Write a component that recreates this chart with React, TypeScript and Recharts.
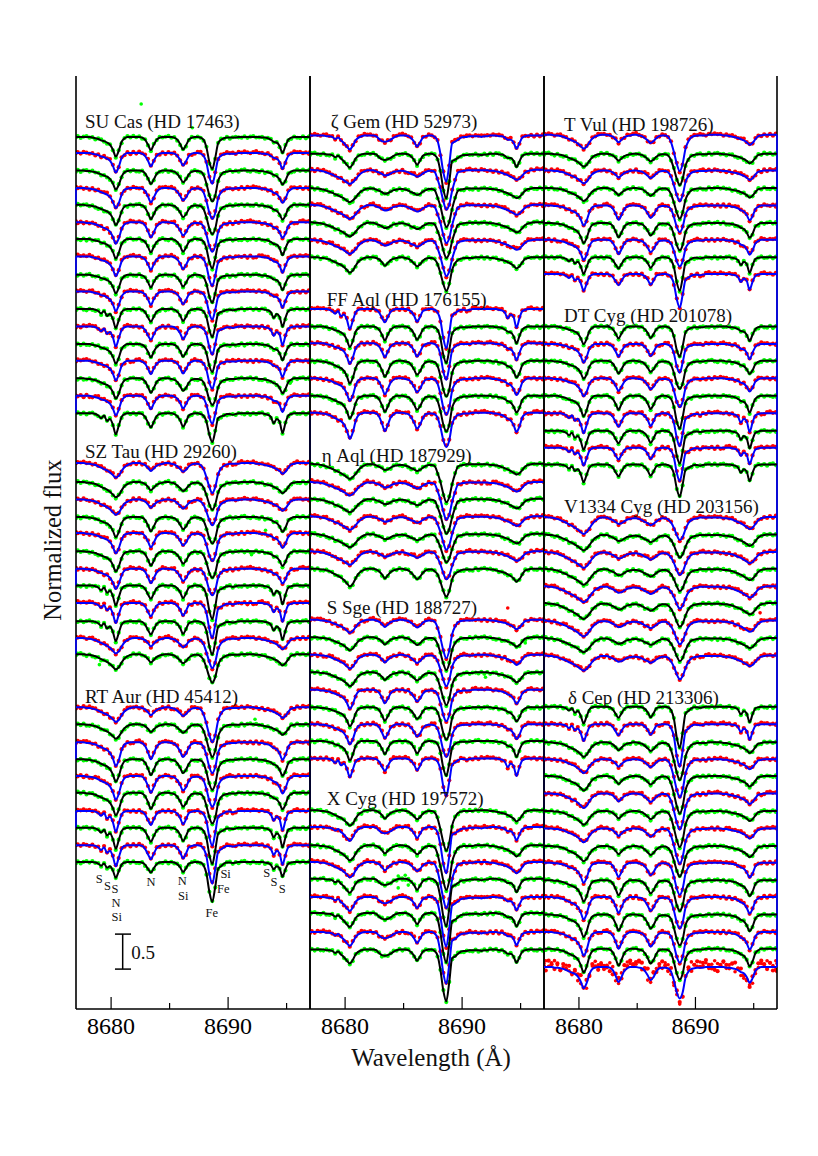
import React from 'react';
import { LineChart, Line, XAxis, YAxis, ReferenceLine, ReferenceDot } from 'recharts';

// wavelength grid (Angstrom)
const wavelengths = [
  8677.0, 8677.15, 8677.4, 8677.65, 8677.9, 8678.15, 8678.4, 8678.65, 8678.9, 8679.15,
  8679.4, 8679.65, 8679.9, 8680.15, 8680.4, 8680.65, 8680.9, 8681.15, 8681.4, 8681.65,
  8681.9, 8682.15, 8682.4, 8682.65, 8682.9, 8683.15, 8683.4, 8683.65, 8683.9, 8684.15,
  8684.4, 8684.65, 8684.9, 8685.15, 8685.4, 8685.65, 8685.9, 8686.15, 8686.4, 8686.65,
  8686.9, 8687.15, 8687.4, 8687.65, 8687.9, 8688.15, 8688.4, 8688.65, 8688.9, 8689.15,
  8689.4, 8689.65, 8689.9, 8690.15, 8690.4, 8690.65, 8690.9, 8691.15, 8691.4, 8691.65,
  8691.9, 8692.15, 8692.4, 8692.65, 8692.9, 8693.15, 8693.4, 8693.65, 8693.9, 8694.15,
  8694.4, 8694.65, 8694.9, 8695.15, 8695.4, 8695.65, 8695.9, 8696.15, 8696.4, 8696.65, 8696.9, 8697.0,
];

// line depth templates, in 0.01 flux
const shapeA = [
  0,0,0,0,0,0,0,1,3,7, 3,11,8,16,30,18,5,1,0,0, 0,0,0,1,5,13,20,12,4,1, 0,0,0,0,1,4,10,19,12,3,
  1,0,0,1,4,14,36,48,30,8, 5,3,1,1,2,1,0,0,0,0, 0,0,0,0,0,1,2,5,14,8, 12,28,14,3,1,0,0,0,0,0,0,0,
];
const shapeB = [
  0,0,0,0,0,0,1,2,3,5, 6,8,11,18,28,20,7,2,0,0, 0,0,0,1,4,11,19,11,4,1, 0,0,0,0,1,4,10,18,12,4,
  1,0,0,1,4,15,36,46,30,9, 4,2,1,1,1,1,0,0,0,0, 0,0,0,0,1,1,2,4,7,8, 13,23,13,4,1,0,0,0,0,0,0,0,
];
const shapeC = [
  0,0,0,0,1,1,2,3,5,7, 9,11,15,23,34,26,11,3,1,0, 0,0,0,1,5,14,24,16,6,2, 0,0,0,1,2,6,13,21,16,7,
  2,1,1,2,6,18,34,42,34,14, 6,3,2,1,1,1,0,0,0,0, 0,0,0,1,1,2,3,5,8,10, 16,25,18,6,2,0,0,0,0,0,0,0,
];
const shapeD = [
  0,0,0,0,1,1,2,3,5,7, 9,11,14,18,22,19,12,6,3,1, 0,0,0,1,3,7,12,8,4,2, 1,0,0,1,2,5,9,13,10,5,
  2,1,1,3,8,19,32,40,32,15, 7,4,2,1,1,1,1,0,0,0, 0,0,1,1,2,3,4,5,7,9, 12,16,13,7,2,1,0,0,0,0,0,0,
];
const shapeE = [
  0,0,1,1,2,3,5,7,9,12, 14,17,20,24,27,24,18,11,6,3, 1,1,1,3,5,8,11,10,7,4, 3,2,2,3,5,8,10,13,11,7,
  4,2,2,4,9,18,30,38,33,20, 10,5,3,2,1,1,1,1,1,1, 1,1,2,2,3,4,6,8,10,13, 16,19,17,11,5,2,1,0,0,0,0,0,
];
const shapeF = [
  0,0,0,0,0,0,1,1,2,5, 3,7,11,16,20,15,7,3,1,0, 0,0,0,1,5,8,9,8,6,3, 1,0,0,0,1,4,9,16,10,3,
  1,0,0,2,7,24,48,60,38,10, 8,6,3,2,2,1,1,1,1,2, 1,1,0,0,0,1,1,3,6,6, 10,19,11,3,1,0,0,0,0,0,0,0,
];

// per star: continuum level, template, line strength, Fe depth (0.01 flux)
const suCasBase = [12.46,12.23,11.98,11.73,11.49,11.24,11.0,10.75,10.49,10.25,10.0,9.75,9.5,9.26,9.01,8.76,8.51];
const suCasShape = 'BBCCCCBBBBAABBCBA';
const suCasScale = [1,1,.8,.85,.85,.9,1,1,.95,1,.9,.95,1,1,.85,1,1];
const suCasFe = [46,44,44,44,42,42,42,42,40,40,40,40,40,40,38,40,41];

const szTauBase = [7.8,7.53,7.28,7.03,6.8,6.54,6.29,6.05,5.8,5.54,5.3,5.07];
const szTauShape = 'DDDCCCCAAADD';
const szTauScale = [.95,1,1,.85,.85,.85,.85,.95,.95,.95,1,1];
const szTauFe = [43,40,37,38,40,38,38,48,50,48,43,41];

const rtAurBase = [4.31,4.07,3.81,3.57,3.33,3.09,2.83,2.59,2.34,2.1];
const rtAurShape = 'DDCCCCAAAA';
const rtAurScale = [.95,.95,1,.95,1,.95,1,1,1,.75];
const rtAurFe = [50,47,44,44,44,44,50,52,55,57];

const zetaGemBase = [12.48,12.22,11.99,11.73,11.49,11.24,10.99,10.74];
const zetaGemShape = 'FFEEEEED';
const zetaGemScale = [1,1,.75,.75,.75,.75,.75,1];
const zetaGemFe = [66,64,57,56,55,51,52,48];

const ffAqlBase = [10.0,9.75,9.51,9.26,9.01,8.76,8.52];
const ffAqlShape = 'ABBCCCC';
const ffAqlScale = [.95,1.05,1.05,.95,.95,.95,1.1];
const ffAqlFe = [56,52,52,51,52,51,49];

const etaAqlBase = [7.79,7.53,7.29,7.04,6.79,6.54,6.29];
const etaAqlShape = 'EEEEEED';
const etaAqlScale = [.8,.72,.72,.72,.72,.72,1.15];
const etaAqlFe = [55,54,50,48,41,40,40];

const sSgeBase = [5.56,5.31,5.06,4.81,4.56,4.31,4.07,3.83,3.58];
const sSgeShape = 'DDDDCCCBA';
const sSgeScale = [.85,.85,.9,.9,.8,.8,.85,1,.9];
const sSgeFe = [55,47,45,47,45,46,47,50,54];

const xCygBase = [2.84,2.6,2.34,2.1,1.86,1.6,1.37,1.1,.85];
const xCygShape = 'DFDDFFFFF';
const xCygScale = [1,1,1,1,1,1,1,1,1];
const xCygFe = [58,66,64,66,68,71,71,74,74];

const tVulBase = [12.49,12.22,11.98,11.73,11.48,11.23,10.99,10.74,10.5];
const tVulShape = 'DDDDCCCAA';
const tVulScale = [.9,.85,.85,.85,.85,.85,.85,.8,.8];
const tVulFe = [52,45,44,44,38,39,38,48,48];

const dtCygBase = [9.75,9.5,9.26,9.01,8.76,8.51,8.26,8.02,7.78];
const dtCygShape = 'BBCCBAAAA';
const dtCygScale = [.9,.95,.75,.75,1.05,.95,.9,.85,.85];
const dtCygFe = [43,41,40,41,47,47,47,48,46];

const v1334Base = [7.03,6.78,6.53,6.29,6.04,5.8,5.55,5.3,5.05];
const v1334Shape = 'EEEEEEEEE';
const v1334Scale = [.9,.85,.85,.85,.85,.85,.85,.75,.8];
const v1334Fe = [33,33,33,32,32,34,34,33,34];

const deltaCepBase = [4.32,4.07,3.81,3.57,3.33,3.08,2.83,2.58,2.33,2.09,1.84,1.6,1.35,1.1,.86,.6];
const deltaCepShape = 'AADDDDDDDCCCCCCC';
const deltaCepScale = [.8,.8,.95,.9,.95,.95,.9,.9,1,.85,.9,.95,.95,1,1,.9];
const deltaCepFe = [59,61,54,55,54,52,52,51,44,46,44,45,44,44,44,45];

// scatter of the observed points around the fit (0.001 flux)
const scatterRed = [16,6,22,10,-4,13,26,3,11,-8,17,5,-11,8,-15,12,-12,18,5,23,11,15,-3,8,-12,11,-17,15,-9,21,6,17,26,9,-2,12,-14,8,-15,11,-8,15,3,-6,12,-18,15,-17,-11,18,27,8,17,5,23,12,-2,15,8,21,9,14,-3];
const scatterGreen = [-6,11,-15,5,12,-11,6,-17,8,15,-8,-18,5,-12,-17,9,-21,3,12,-8,14,-5,8,-15,6,-12,-15,11,-5,12,-9,2,15,-12,8,-14,-17,5,-18,-6,9,-12,5,-3,-15,8,-21,3,-12,6,15,-8,11,-15,5,12,-6,-11,8,-14,3,12,-9];
const scatterNoisy = [80,40,95,20,70,-10,60,90,30,-40,50,-30,30,-50,-60,20,60,-30,50,90,10,70,100,30,-20,-40,-60,30,80,40,-10,70,90,20,50,-30,-40,-60,30,10,70,90,40,-30,60,-50,-40,-60,10,-50,90,40,-20,60,-30,70,20,80,-10,60,30,90,10,50,-30,70,20,-40,40,-30,20,-50,-60,30,60,-20,80,30,90,40,70,100];
const scatterNoisyB = [50,90,10,60,100,40,-20,30,70,10,-30,40,-60,-30,10,-70,-10,40,90,30,60,20,-10,70,50,-70,-20,60,10,90,50,20,40,80,-20,10,-70,-30,60,40,20,-10,70,50,-40,-70,-30,-80,-60,20,30,100,50,20,80,30,60,-20,40,90,50,20,70,-10,40,60,-40,30,-50,-70,-50,-30,-70,-40,10,50,40,90,60,20,90,50];

// isolated bad points [wavelength, flux]
const greenOutliers = [
  [[8682.57,12.93],[8686.94,12.59],[8693.2,6.84],[8692,6.49],[8679,4.92],[8692.3,4.14],[8695.3,8.94]],
  [[8695.4,5.23],[8692,4.74],[8684.28,1.84],[8684.54,1.9],[8684.88,1.87],[8685.14,1.91],[8685.4,1.77],[8684.54,1.73],[8685.4,1.84]],
  [],
];
const redOutliers = [[[8685.4,5.26]], [[8693.9,5.73]], [[8695.55,5.66]]];

// blue fit lines running down the panel edges [wavelength, flux from, flux to]
const blueEdges = [
  [[8677,11.73,11.49],[8677,10.75,10.48],[8677,8.76,8.51],[8677,6.29,6.05],[8677,5.3,5.07],[8677,3.81,3.57],[8677,2.83,2.59],[8697,8.51,7.55],[8697,5.65,1.56]],
  [[8697,5.55,2.09]],
  [[8697,12.49,.6]],
];

const panelLeft = [76, 310, 544];
const panelWidth = [234, 234, 233];
const panelFirst = ['green', 'red', 'red'];

const starNames = [
  ['SU Cas (HD 17463)', 'SZ Tau (HD 29260)', 'RT Aur (HD 45412)'],
  ['\u03b6 Gem (HD 52973)', 'FF Aql (HD 176155)', '\u03b7 Aql (HD 187929)', 'S Sge (HD 188727)', 'X Cyg (HD 197572)'],
  ['T Vul (HD 198726)', 'DT Cyg (HD 201078)', 'V1334 Cyg (HD 203156)', '\u03b4 Cep (HD 213306)'],
];
const nameX = [[8677.77,8677.77,8677.77],[8678.77,8678.43,8678.0,8678.43,8678.43],[8678.72,8678.72,8678.72,8679.06]];
const nameY = [[12.68,7.96,4.46],[12.68,10.13,7.9,5.73,3.01],[12.63,9.9,7.18,4.45]];

// line identifications under the bottom RT Aur spectrum [text, wavelength, flux]
const lineIds: [string, number, number][] = [
  ['S',8678.99,1.86],['S',8679.68,1.76],['S',8680.33,1.71],['N',8680.42,1.52],['Si',8680.48,1.32],
  ['N',8683.41,1.82],['N',8686.09,1.83],['Si',8686.17,1.62],['Si',8689.79,1.93],['Fe',8689.59,1.71],
  ['Fe',8688.6,1.38],['S',8693.3,1.94],['S',8693.92,1.81],['S',8694.63,1.71],
];

const shapes: Record<string, number[]> = { A: shapeA, B: shapeB, C: shapeC, D: shapeD, E: shapeE, F: shapeF };

const panelStars = [
  [
    [suCasBase, suCasShape, suCasScale, suCasFe],
    [szTauBase, szTauShape, szTauScale, szTauFe],
    [rtAurBase, rtAurShape, rtAurScale, rtAurFe],
  ],
  [
    [zetaGemBase, zetaGemShape, zetaGemScale, zetaGemFe],
    [ffAqlBase, ffAqlShape, ffAqlScale, ffAqlFe],
    [etaAqlBase, etaAqlShape, etaAqlScale, etaAqlFe],
    [sSgeBase, sSgeShape, sSgeScale, sSgeFe],
    [xCygBase, xCygShape, xCygScale, xCygFe],
  ],
  [
    [tVulBase, tVulShape, tVulScale, tVulFe],
    [dtCygBase, dtCygShape, dtCygScale, dtCygFe],
    [v1334Base, v1334Shape, v1334Scale, v1334Fe],
    [deltaCepBase, deltaCepShape, deltaCepScale, deltaCepFe],
  ],
] as any[][][];

const serif = '"Liberation Serif", serif';
const majorTicks = [8680, 8690];
const tickValues = [8680, 8685, 8690, 8695];
const xDomain = [8677, 8697];
const yDomain = [0, 13.33];

function buildPanel(p: number) {
  const rows: any[] = wavelengths.map((w) => ({ w }));
  let k = 0;
  const first = panelFirst[p];
  const series: { key: number; red: boolean }[] = [];
  panelStars[p].forEach(([base, shape, scale, fe]: any[]) => {
    base.forEach((b: number, j: number) => {
      const tpl = shapes[shape[j]];
      const red = first === 'red' ? k % 2 === 0 : k % 2 === 1;
      const noisy = p === 2 && b === 0.6;
      const noise = noisy ? scatterNoisy : red ? scatterRed : scatterGreen;
      rows.forEach((row, i) => {
        const depth = i >= 44 && i <= 50 ? (tpl[i] * fe[j]) / tpl[47] : tpl[i] * scale[j];
        const fit = b - depth / 100;
        row[`s${k}`] = fit;
        row[`d${k}`] = fit + noise[(i + k * 7) % noise.length] / 1000;
        if (noisy) row.extra = fit + scatterNoisyB[i] / 1000;
      });
      series.push({ key: k, red });
      k += 1;
    });
  });
  return { rows, series };
}

const AxisTick = ({ x, y, payload, top }: any) => {
  const major = majorTicks.includes(payload.value);
  const len = major ? 12 : 6;
  return (
    <g>
      <line x1={x} x2={x} y1={y} y2={top ? y + len : y - len} stroke="#000" strokeWidth={1.2} />
      {!top && major && (
        <text x={x} y={y + 25} textAnchor="middle" fontFamily={serif} fontSize={24} fill="#000">
          {payload.value}
        </text>
      )}
    </g>
  );
};

const TextMark = ({ cx, cy, text, size, anchor }: any) => (
  <text x={cx} y={cy} dy="0.33em" textAnchor={anchor} fontFamily={serif} fontSize={size} fill="#111">
    {text}
  </text>
);

const chartMargin = { top: 8, right: 8, bottom: 0, left: 8 };

// observed points sit in their own chart under the fits, so every fit stays on top
const PointsLayer = ({ p, rows, series, w }: any) => (
  <div style={{ position: 'absolute', left: 0, top: 0 }}>
    <LineChart width={w + 16} height={981} data={rows} margin={chartMargin}>
      <XAxis dataKey="w" type="number" domain={xDomain} allowDataOverflow height={40} tick={false} tickLine={false} axisLine={false} />
      <YAxis hide type="number" domain={yDomain} allowDataOverflow />
      {series.map(({ key, red }: any) => (
        <Line
          key={`d${key}`}
          dataKey={`d${key}`}
          stroke="none"
          dot={{ r: 2.1, fill: red ? '#ff0000' : '#00ff00', stroke: 'none' }}
          activeDot={false}
          isAnimationActive={false}
        />
      ))}
      {p === 2 && (
        <Line
          dataKey="extra"
          stroke="none"
          dot={{ r: 1.8, fill: '#ff0000', stroke: 'none' }}
          activeDot={false}
          isAnimationActive={false}
        />
      )}
      {greenOutliers[p].map(([x, y], i) => (
        <ReferenceDot key={`g${i}`} x={x} y={y} r={1.8} fill="#00ff00" stroke="none" />
      ))}
      {redOutliers[p].map(([x, y], i) => (
        <ReferenceDot key={`r${i}`} x={x} y={y} r={1.8} fill="#ff0000" stroke="none" />
      ))}
    </LineChart>
  </div>
);

const Panel = ({ p }: { p: number }) => {
  const { rows, series } = buildPanel(p);
  const w = panelWidth[p];
  return (
    <div style={{ position: 'absolute', left: panelLeft[p] - 8, top: 68, width: w + 16, height: 981 }}>
      <PointsLayer p={p} rows={rows} series={series} w={w} />
      <div style={{ position: 'absolute', left: 0, top: 0 }}>
        <LineChart width={w + 16} height={981} data={rows} margin={chartMargin}>
          <XAxis
            dataKey="w"
            type="number"
            domain={xDomain}
            allowDataOverflow
            ticks={tickValues}
            interval={0}
            height={40}
            tickSize={0}
            tickMargin={0}
            tickLine={false}
            axisLine={{ stroke: '#000', strokeWidth: 1.6 }}
            tick={<AxisTick />}
          />
          <XAxis
            xAxisId="top"
            orientation="top"
            dataKey="w"
            type="number"
            domain={xDomain}
            allowDataOverflow
            ticks={tickValues}
            interval={0}
            height={0}
            tickSize={0}
            tickMargin={0}
            tickLine={false}
            axisLine={{ stroke: '#000', strokeWidth: 1.6 }}
            tick={<AxisTick top />}
          />
          <YAxis hide type="number" domain={yDomain} allowDataOverflow />
          <ReferenceLine x={8677} stroke="#000" strokeWidth={1.6} />
          <ReferenceLine x={8697} stroke="#000" strokeWidth={1.6} />
          {blueEdges[p].map(([x, a, b], i) => (
            <ReferenceLine key={`e${i}`} segment={[{ x, y: a }, { x, y: b }]} stroke="#0000ff" strokeWidth={1.6} />
          ))}
          {series.map(({ key, red }) => (
            <Line
              key={`s${key}`}
              dataKey={`s${key}`}
              type="monotone"
              stroke={red ? '#0000ff' : '#000000'}
              strokeWidth={2}
              dot={false}
              activeDot={false}
              isAnimationActive={false}
            />
          ))}
          {starNames[p].map((name, i) => (
            <ReferenceDot
              key={name}
              x={nameX[p][i]}
              y={nameY[p][i]}
              r={0}
              shape={(d: any) => <TextMark cx={d.cx} cy={d.cy} text={name} size={19} anchor="start" />}
            />
          ))}
          {p === 0 &&
            lineIds.map(([t, x, y], i) => (
              <ReferenceDot
                key={`l${i}`}
                x={x}
                y={y}
                r={0}
                shape={(d: any) => <TextMark cx={d.cx} cy={d.cy} text={t} size={12.5} anchor="middle" />}
              />
            ))}
          {p === 0 && (
            <ReferenceLine segment={[{ x: 8680.99, y: 1.07 }, { x: 8680.99, y: 0.57 }]} stroke="#000" strokeWidth={1.5} />
          )}
          {p === 0 && (
            <ReferenceLine segment={[{ x: 8680.33, y: 1.07 }, { x: 8681.7, y: 1.07 }]} stroke="#000" strokeWidth={1.5} />
          )}
          {p === 0 && (
            <ReferenceLine segment={[{ x: 8680.33, y: 0.57 }, { x: 8681.7, y: 0.57 }]} stroke="#000" strokeWidth={1.5} />
          )}
          {p === 0 && (
            <ReferenceDot
              x={8682.73}
              y={0.8}
              r={0}
              shape={(d: any) => <TextMark cx={d.cx} cy={d.cy} text="0.5" size={19} anchor="middle" />}
            />
          )}
        </LineChart>
      </div>
    </div>
  );
};

export default function App() {
  return (
    <div style={{ position: 'absolute', left: 0, top: 0, width: 818, height: 1156, background: '#fff', overflow: 'hidden' }}>
      <Panel p={0} />
      <Panel p={1} />
      <Panel p={2} />
      <div
        style={{
          position: 'absolute', left: 231, top: 1043, width: 400, textAlign: 'center',
          fontFamily: serif, fontSize: 25, lineHeight: '30px', color: '#111',
        }}
      >
        Wavelength (Å)
      </div>
      <div
        style={{
          position: 'absolute', left: -147, top: 525, width: 400, textAlign: 'center',
          fontFamily: serif, fontSize: 24.5, lineHeight: '30px', color: '#111', transform: 'rotate(-90deg)',
        }}
      >
        Normalized flux
      </div>
    </div>
  );
}
